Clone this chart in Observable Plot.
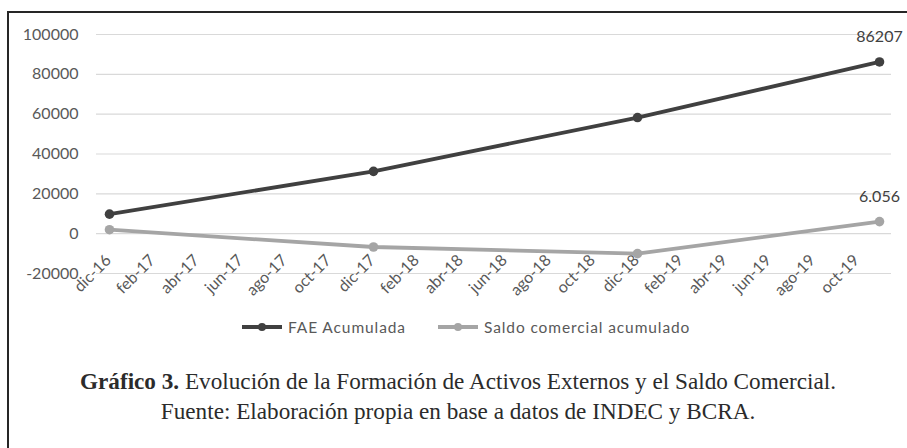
<!DOCTYPE html>
<html>
<head>
<meta charset="utf-8">
<script src="https://cdn.jsdelivr.net/npm/d3@7"></script>
<script src="https://cdn.jsdelivr.net/npm/@observablehq/plot@0.6"></script>
<style>
  html, body { margin: 0; padding: 0; background: #fff; overflow: hidden; }
  #wrap { position: relative; width: 907px; height: 448px; overflow: hidden; background: #fff; }
  #box { position: absolute; left: 7px; top: 11px; width: 930px; height: 470px;
         border-left: 2px solid #262626; border-top: 2px solid #262626; box-sizing: border-box; }
  #chart { position: absolute; left: 0; top: 0; }
  #legend { position: absolute; top: 317px; left: 242px; height: 20px; display: flex; align-items: center;
            font-family: Lato, "Open Sans", sans-serif; font-size: 15.5px; letter-spacing: 0.9px; color: #595959; white-space: nowrap; }
  #legend .item { display: flex; align-items: center; }
  #legend svg { display: block; margin-right: 6px; }
  #caption { position: absolute; left: 0; width: 916px; top: 366px; text-align: center;
             font-family: "Liberation Serif", "DejaVu Serif", serif; font-size: 23.2px; color: #2b2b2b; line-height: 30px; }
</style>
</head>
<body>
<div id="wrap">
  <div id="box"></div>
  <div id="chart"></div>
  <div id="legend"></div>
  <div id="caption">
    <div><b>Gráfico 3.</b> Evolución de la Formación de Activos Externos y el Saldo Comercial.</div>
    <div>Fuente: Elaboración propia en base a datos de INDEC y BCRA.</div>
  </div>
</div>
<script>
// Monthly categories of the horizontal axis
const months = [
  "dic-16","ene-17","feb-17","mar-17","abr-17","may-17","jun-17","jul-17","ago-17","sep-17","oct-17","nov-17",
  "dic-17","ene-18","feb-18","mar-18","abr-18","may-18","jun-18","jul-18","ago-18","sep-18","oct-18","nov-18",
  "dic-18","ene-19","feb-19","mar-19","abr-19","may-19","jun-19","jul-19","ago-19","sep-19","oct-19","nov-19"
];
// Tick labels shown (every other month)
const xTickLabels = ["dic-16","feb-17","abr-17","jun-17","ago-17","oct-17","dic-17","feb-18","abr-18",
  "jun-18","ago-18","oct-18","dic-18","feb-19","abr-19","jun-19","ago-19","oct-19"];
const yTicks = [-20000, 0, 20000, 40000, 60000, 80000, 100000];

// Observation dates and series
const obsDates = ["dic-16", "dic-17", "dic-18", "nov-19"];
const faeAcumulada = [9800, 31300, 58300, 86207];
const saldoComercial = [2000, -6700, -10000, 6056];
const seriesNames = ["FAE Acumulada", "Saldo comercial acumulado"];
const seriesColors = ["#404040", "#a5a5a5"];
const endLabels = ["86207", "6.056"];

const rows = [];
obsDates.forEach((d, i) => {
  rows.push({date: d, value: faeAcumulada[i], series: seriesNames[0]});
  rows.push({date: d, value: saldoComercial[i], series: seriesNames[1]});
});
const lastRows = [
  {date: obsDates[3], value: faeAcumulada[3], series: seriesNames[0], label: endLabels[0]},
  {date: obsDates[3], value: saldoComercial[3], series: seriesNames[1], label: endLabels[1]}
];

const chart = Plot.plot({
  width: 907,
  height: 305,
  marginLeft: 96,
  marginRight: 16,
  marginTop: 34,
  marginBottom: 32,
  style: { fontFamily: "Lato, 'Open Sans', sans-serif", fontSize: "16px", color: "#595959", background: "transparent" },
  x: { type: "point", domain: months, padding: 0.5 },
  y: { domain: [-20000, 100000] },
  color: { domain: seriesNames, range: seriesColors },
  marks: [
    Plot.ruleY(yTicks, { stroke: "#d9d9d9", strokeWidth: 1.2 }),
    Plot.axisY({ ticks: yTicks, tickSize: 0, tickPadding: 18, tickFormat: d => String(d), label: null }),
    Plot.axisX({ ticks: [], label: null, tickSize: 0 }),
    Plot.text(xTickLabels, { x: d => d, y: d => 0, text: d => d, rotate: -45, textAnchor: "end",
      fill: "#595959", ariaDescription: "xlabels" }),
    Plot.line(rows, { x: "date", y: "value", stroke: "series", z: "series", strokeWidth: 3.8, curve: "linear" }),
    Plot.dot(rows, { x: "date", y: "value", fill: "series", r: 4.8 }),
    Plot.text(lastRows, { x: "date", y: "value", text: "label", dy: -25, fill: "#404040", fontSize: 16 })
  ]
});
document.getElementById("chart").appendChild(chart);

// Offset the rotated month labels below the zero line (screen-space shift of the label group)
let labelGroup = chart.querySelector('g[aria-description="xlabels"]');
if (!labelGroup) {
  const groups = Array.from(chart.querySelectorAll("g")).filter(g =>
    Array.from(g.children).some(c => c.tagName === "text" && c.textContent === "feb-17"));
  labelGroup = groups[0];
}
if (labelGroup) labelGroup.setAttribute("transform", "translate(-0.5,24.5)");

// Legend
const legend = document.getElementById("legend");
seriesNames.forEach((name, i) => {
  const item = document.createElement("div");
  item.className = "item";
  if (i > 0) item.style.marginLeft = "32px";
  item.innerHTML = `<svg width="40" height="12"><line x1="0" x2="40" y1="6" y2="6" stroke="${seriesColors[i]}" stroke-width="3.8"/><circle cx="20" cy="6" r="4" fill="${seriesColors[i]}"/></svg><span>${name}</span>`;
  legend.appendChild(item);
});
</script>
</body>
</html>
